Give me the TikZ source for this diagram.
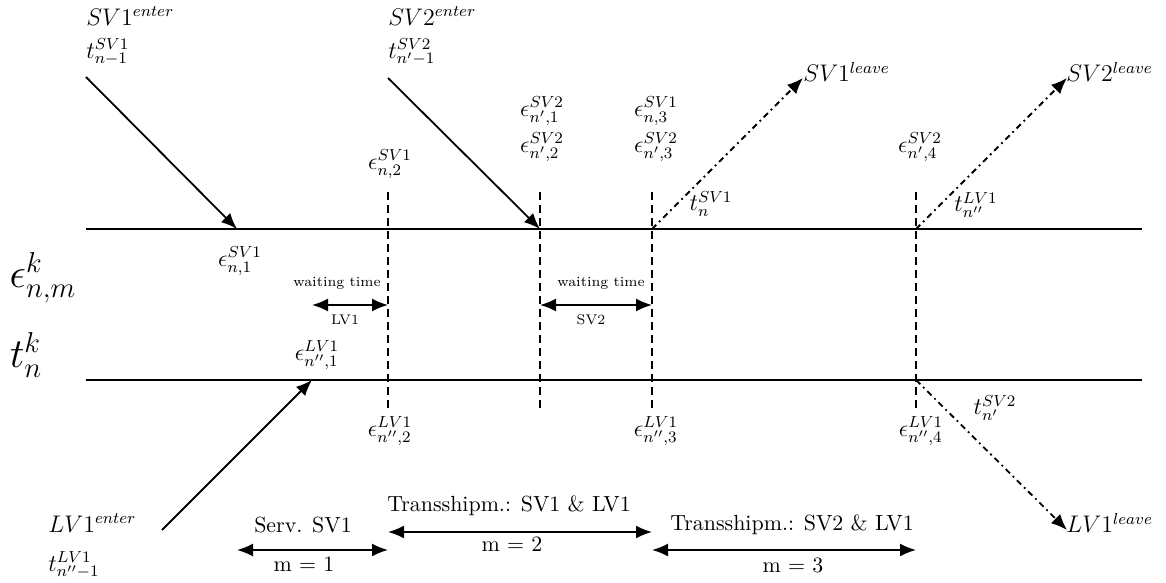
\documentclass[11pt,tikz,border=0pt]{standalone}
\usetikzlibrary{arrows.meta}

\begin{document}
\begin{tikzpicture}[x=0.5pt,y=-0.5pt,
    every node/.style={inner sep=1pt},
    lbl/.style={font=\large},
    move/.style={-{Latex[length=8pt,width=6.5pt]},line width=0.9pt},
    leave/.style={-{Latex[length=8pt,width=6.5pt]},line width=0.9pt,dash dot},
    span/.style={{Latex[length=8pt,width=6.5pt]}-{Latex[length=8pt,width=6.5pt]},line width=0.9pt},
    event/.style={line width=0.9pt,dash pattern=on 4pt off 2.5pt},
    small/.style={font=\fontsize{7}{8}\selectfont}]
    \useasboundingbox (0,0) rectangle (1166,583);

    % the two time lines
    \coordinate (S0) at (86,229);
    \coordinate (S1) at (1142,229);
    \coordinate (L0) at (86,380);
    \coordinate (L1) at (1142,380);
    \draw[line width=0.9pt] (S0) -- (S1);
    \draw[line width=0.9pt] (L0) -- (L1);

    \node (eps) at (43,278) {\huge $\epsilon^{k}_{n,m}$};
    \node (tn) at (26,355) {\huge $t^{k}_{n}$};

    % events
    \foreach \x/\n in {388/a,540/b,652/c,916/d}
        \draw[event] (\x,192) coordinate (\n top) -- (\x,408) coordinate (\n bot);

    % vessels entering and leaving
    \coordinate (SV1in) at (86,77);
    \coordinate (SV1at) at (237,229);
    \coordinate (SV2in) at (388,78);
    \coordinate (SV2at) at (540,229);
    \coordinate (SV1out) at (652,229);
    \coordinate (SV1end) at (803,78);
    \coordinate (SV2out) at (916,229);
    \coordinate (SV2end) at (1067,78);
    \coordinate (LV1in) at (162,530);
    \coordinate (LV1at) at (312,380);
    \coordinate (LV1out) at (916,380);
    \coordinate (LV1end) at (1067,530);

    \path (SV1in) edge[move] (SV1at);
    \path (SV2in) edge[move] (SV2at);
    \path (LV1in) edge[move] (LV1at);
    \path (SV1out) edge[leave] (SV1end);
    \path (SV2out) edge[leave] (SV2end);
    \path (LV1out) edge[leave] (LV1end);

    \node[lbl,anchor=west] (SV1a) at (84,16) {$SV1^{enter}$};
    \node[lbl,anchor=west] (SV1b) at (84,52) {$t^{SV1}_{n-1}$};
    \node[lbl,anchor=west] (SV2a) at (386,16) {$SV2^{enter}$};
    \node[lbl,anchor=west] (SV2b) at (386,52) {$t^{SV2}_{n'-1}$};
    \node[lbl,anchor=west] (SV1c) at (801,72) {$SV1^{leave}$};
    \node[lbl,anchor=west] (SV2c) at (1064,72) {$SV2^{leave}$};
    \node[lbl,anchor=west] (LV1a) at (46,523) {$LV1^{enter}$};
    \node[lbl,anchor=west] (LV1b) at (46,565) {$t^{LV1}_{n''-1}$};
    \node[lbl,anchor=west] (LV1c) at (1064,523) {$LV1^{leave}$};

    \node[lbl] (tSV1) at (711,204) {$t^{SV1}_{n}$};
    \node[lbl] (tLV1) at (976,205) {$t^{LV1}_{n''}$};
    \node[lbl] (tSV2) at (995,408) {$t^{SV2}_{n'}$};

    % event labels
    \node[lbl] (e1) at (240,261) {$\epsilon^{SV1}_{n,1}$};
    \node[lbl] (e2) at (390,164) {$\epsilon^{SV1}_{n,2}$};
    \node[lbl] (e3) at (542,111) {$\epsilon^{SV2}_{n',1}$};
    \node[lbl] (e4) at (542,147) {$\epsilon^{SV2}_{n',2}$};
    \node[lbl] (e5) at (656,111) {$\epsilon^{SV1}_{n,3}$};
    \node[lbl] (e6) at (656,147) {$\epsilon^{SV2}_{n',3}$};
    \node[lbl] (e7) at (920,147) {$\epsilon^{SV2}_{n',4}$};
    \node[lbl] (f1) at (317,355) {$\epsilon^{LV1}_{n'',1}$};
    \node[lbl] (f2) at (390,431) {$\epsilon^{LV1}_{n'',2}$};
    \node[lbl] (f3) at (656,431) {$\epsilon^{LV1}_{n'',3}$};
    \node[lbl] (f4) at (921,431) {$\epsilon^{LV1}_{n'',4}$};

    % waiting times
    \coordinate (w1) at (312,305);
    \coordinate (w2) at (388,305);
    \coordinate (w3) at (540,305);
    \coordinate (w4) at (652,305);
    \path (w1) edge[span] (w2);
    \path (w3) edge[span] (w4);
    \node[small] (wt1) at (337,283) {waiting time};
    \node[small] (wl1) at (345,320) {LV1};
    \node[small] (wt2) at (601,283) {waiting time};
    \node[small] (wl2) at (591,320) {SV2};

    % phases
    \coordinate (m1a) at (237,550);
    \coordinate (m1b) at (388,550);
    \coordinate (m2a) at (388,532);
    \coordinate (m2b) at (652,532);
    \coordinate (m3a) at (652,550);
    \coordinate (m3b) at (916,550);
    \path (m1a) edge[span] (m1b);
    \path (m2a) edge[span] (m2b);
    \path (m3a) edge[span] (m3b);
    \node (p1) at (303,525) {Serv. SV1};
    \node (q1) at (304,564) {m = 1};
    \node (p2) at (509,506) {Transshipm.: SV1 \& LV1};
    \node (q2) at (512,544) {m = 2};
    \node (p3) at (792,525) {Transshipm.: SV2 \& LV1};
    \node (q3) at (793,565) {m = 3};
\end{tikzpicture}
\end{document}
